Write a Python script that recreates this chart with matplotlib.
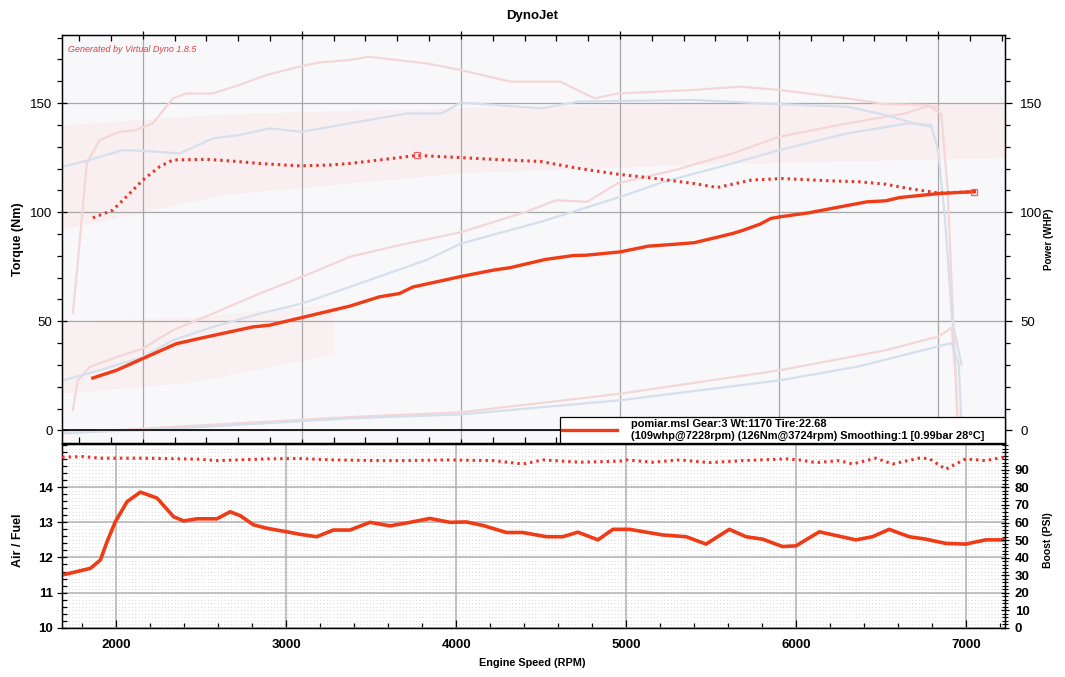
import matplotlib.pyplot as plt
from matplotlib.ticker import MultipleLocator, FixedLocator
from matplotlib.lines import Line2D

plt.rcParams['font.family'] = ['Liberation Sans', 'DejaVu Sans']

# --- run "pomiar.msl" (top panel) ---
rpm_power = [1686, 1833, 2000, 2210, 2399, 2692, 2797, 3000, 3300, 3488, 3613, 3698, 4000,
             4201, 4312, 4529, 4704, 4792, 5002, 5177, 5346, 5466, 5606, 5707, 5774, 5880,
             5948, 6000, 6188, 6381, 6550, 6670, 6759, 7000, 7228]
power_whp = [24.0, 27.5, 32.9, 39.7, 42.8, 47.4, 48.2, 51.7, 56.9, 61.2, 62.7, 65.7, 70.5,
             73.4, 74.6, 78.3, 80.1, 80.3, 81.8, 84.4, 85.3, 86.0, 88.4, 90.2, 91.7, 94.5,
             97.1, 97.8, 99.7, 102.4, 104.7, 105.2, 106.7, 108.5, 109.4]

rpm_torque = [1686, 1811, 1896, 2000, 2105, 2189, 2399, 2545, 2734, 2986, 3174, 3300, 3488,
              3724, 4000, 4200, 4503, 4744, 4985, 5226, 5466, 5611, 5827, 6019, 6309, 6507,
              6670, 6800, 7000, 7228]
torque_nm = [97.4, 100.9, 107.0, 114.7, 120.8, 123.9, 124.2, 123.5, 122.3, 121.2, 121.6, 122.3, 123.9,
             126.0, 125.0, 124.2, 123.2, 120.0, 117.4, 115.4, 113.1, 111.3, 114.7, 115.4, 114.4, 113.9,
             112.8, 111.0, 108.8, 109.3]

# --- faded reference run in the background ---
ref_rpm_tq_pink = [1560, 1591, 1648, 1728, 1853, 1958, 2063, 2189, 2273, 2440, 2608, 2776, 2985,
                   3111, 3300, 3420, 3781, 4000, 4312, 4624, 4840, 4985, 5466, 5755, 6000, 6429,
                   6670, 6935, 7020, 7060, 7095, 7123]
ref_tq_pink = [53.7, 76.6, 122.5, 133.0, 136.8, 137.6, 140.7, 152.1, 154.4, 154.4, 158.3, 162.8, 166.7,
               168.6, 169.7, 171.2, 168.2, 165.1, 159.8, 159.8, 152.1, 154.4, 156.0, 157.5, 156.0, 152.1,
               149.5, 149.1, 145.0, 110.0, 50.0, 4.6]
ref_rpm_hp_pink = [1560, 1591, 1665, 1811, 2000, 2189, 2440, 2734, 3000, 3300, 3614, 4000, 4408,
                   4600, 4792, 4985, 5346, 5707, 6000, 6429, 6790, 6935, 7000]
ref_hp_pink = [9.2, 22.9, 29.0, 32.9, 37.5, 45.9, 53.5, 62.7, 70.3, 79.5, 84.9, 90.8, 100.1,
               105.5, 104.7, 113.2, 119.3, 126.9, 134.5, 140.7, 145.2, 148.6, 148.0]
ref_rpm_tq_blue = [1497, 1644, 1874, 2000, 2231, 2440, 2608, 2797, 3000, 3300, 3661, 3877, 4000,
                   4503, 4744, 5466, 6000, 6429, 6670, 6814, 6958, 7000, 7044, 7088, 7147]
ref_tq_blue = [120.8, 123.5, 128.4, 128.1, 126.9, 133.8, 135.3, 138.4, 136.8, 140.7, 145.2, 145.2, 150.2,
               147.6, 150.7, 151.4, 149.5, 148.3, 144.5, 141.4, 139.1, 128.4, 96.3, 50.5, 30.0]
ref_rpm_hp_blue = [1497, 1728, 2000, 2189, 2440, 2734, 3000, 3300, 3781, 4000, 4503, 5002, 5274,
                   5707, 6000, 6429, 6814, 6958]
ref_hp_blue = [22.9, 27.5, 33.6, 41.3, 47.4, 53.5, 58.1, 65.7, 78.0, 85.6, 95.6, 107.0, 113.9,
               122.3, 128.4, 136.1, 140.7, 139.9]
ref_rpm_low_pink = [1497, 2000, 3300, 4000, 5002, 6000, 6670, 7000, 7085, 7110, 7123]
ref_low_pink = [-1.5, 0.8, 6.1, 8.3, 16.8, 27.5, 36.7, 43.0, 47.0, 25.0, 0.0]
ref_rpm_low_blue = [1497, 2000, 3300, 4000, 5000, 6003, 6507, 7000, 7085, 7130, 7148]
ref_low_blue = [-1.0, 0.0, 5.5, 7.3, 13.8, 22.9, 29.4, 38.5, 40.0, 30.0, 0.0]

# --- air / fuel and boost (bottom panel) ---
rpm_afr = [1683, 1771, 1849, 1908, 1947, 1996, 2065, 2143, 2241, 2338, 2397, 2476, 2593, 2671,
           2730, 2808, 2887, 3004, 3080, 3180, 3278, 3376, 3493, 3611, 3730, 3846, 3963, 4061,
           4159, 4296, 4393, 4531, 4628, 4716, 4834, 4922, 5020, 5215, 5353, 5470, 5607, 5705,
           5803, 5920, 5999, 6136, 6351, 6449, 6547, 6665, 6763, 6880, 6997, 7114, 7228]
afr = [11.50, 11.60, 11.69, 11.93, 12.45, 13.02, 13.59, 13.86, 13.69, 13.16, 13.04, 13.10, 13.10, 13.30,
       13.19, 12.93, 12.83, 12.73, 12.66, 12.59, 12.78, 12.78, 13.00, 12.90, 13.00, 13.11, 13.00, 13.01,
       12.91, 12.71, 12.71, 12.59, 12.59, 12.72, 12.50, 12.80, 12.80, 12.64, 12.59, 12.38, 12.80, 12.59,
       12.52, 12.31, 12.33, 12.73, 12.50, 12.59, 12.80, 12.59, 12.52, 12.40, 12.38, 12.50, 12.50]

rpm_boost = [1683, 1810, 1908, 2161, 2495, 2593, 2887, 3082, 3278, 3552, 3669, 3944, 4218, 4393,
             4511, 4727, 4962, 5001, 5157, 5314, 5490, 5685, 5940, 6019, 6117, 6254, 6332, 6469,
             6567, 6723, 6782, 6880, 6997, 7114, 7228]
boost_psi = [97.3, 97.6, 96.7, 96.7, 96.1, 95.3, 96.3, 96.5, 95.7, 95.3, 95.3, 95.7, 95.3, 93.4,
             95.7, 94.4, 95.0, 95.7, 94.4, 95.7, 94.2, 95.3, 96.3, 95.7, 94.2, 95.3, 93.4, 96.7,
             93.4, 96.7, 96.5, 90.4, 96.3, 95.3, 97.4]

afr_ticks = [10, 11, 12, 13, 14]
boost_ticks = [0, 10, 20, 30, 40, 50, 60, 70, 80, 90]

legend_text = ('pomiar.msl Gear:3 Wt:1170 Tire:22.68\n'
               '(109whp@7228rpm) (126Nm@3724rpm) Smoothing:1 [0.99bar 28\u00b0C]')

MERAH = '#ef3b16'
MERAH_TITIK = '#e8352a'
GRID = '#a8a8a8'
PINK_PUDAR = '#f5d6d6'
BIRU_PUDAR = '#d6dfed'


def gaya_sumbu(ax, warna_muka='white'):
    ax.set_facecolor(warna_muka)
    for s in ax.spines.values():
        s.set_color('black')
        s.set_linewidth(1.0)


def panel_atas(ax):
    gaya_sumbu(ax, '#f8f8fb')
    ax.set_xlim(1490, 7420)
    ax.set_ylim(-5.8, 181.3)

    # faded reference run
    ax.fill_between([1490, 2500, 4000, 5500, 7420], [92, 108, 118, 122, 125],
                    [140, 145, 148, 150, 150], color='#fbe8e8', alpha=0.55, lw=0, zorder=0)
    ax.fill_between([1490, 2300, 3200], [17, 22, 35], [50, 52, 58],
                    color='#fbe8e8', alpha=0.45, lw=0, zorder=0)
    for r, v, c in [(ref_rpm_tq_pink, ref_tq_pink, PINK_PUDAR),
                    (ref_rpm_hp_pink, ref_hp_pink, PINK_PUDAR),
                    (ref_rpm_low_pink, ref_low_pink, PINK_PUDAR),
                    (ref_rpm_tq_blue, ref_tq_blue, BIRU_PUDAR),
                    (ref_rpm_hp_blue, ref_hp_blue, BIRU_PUDAR),
                    (ref_rpm_low_blue, ref_low_blue, BIRU_PUDAR)]:
        ax.plot(r, v, color=c, lw=1.6, zorder=1)

    ax.grid(True, color=GRID, lw=0.9)
    ax.set_axisbelow(True)
    ax.axhline(0, color='black', lw=1.2, zorder=2)

    ax.plot(rpm_torque, torque_nm, color=MERAH_TITIK, lw=2.2, ls=(0, (0.8, 1.3)), zorder=4)
    ax.plot(rpm_power, power_whp, color=MERAH, lw=2.4, zorder=5)
    ipk = torque_nm.index(max(torque_nm))
    ax.plot(rpm_torque[ipk], torque_nm[ipk], 's', ms=4.5, mfc='none', mec='#f06060', mew=0.9, zorder=6)
    ax.plot(rpm_power[-1], power_whp[-1], 's', ms=4.5, mfc='none', mec='#f06060', mew=0.9, zorder=6)

    ax.xaxis.set_major_locator(MultipleLocator(1000))
    ax.xaxis.set_minor_locator(MultipleLocator(200))
    ax.yaxis.set_major_locator(MultipleLocator(50))
    ax.yaxis.set_minor_locator(MultipleLocator(10))
    ax.tick_params(axis='x', which='both', top=True, bottom=True, labelbottom=False,
                   direction='inout', length=6, width=0.9)
    ax.tick_params(axis='x', which='minor', direction='in', length=4)
    ax.tick_params(axis='y', which='major', direction='inout', length=7, width=0.9,
                   labelsize=9.5, pad=3)
    ax.tick_params(axis='y', which='minor', direction='out', length=3.5, width=0.9)

    kanan = ax.twinx()
    kanan.set_ylim(ax.get_ylim())
    kanan.yaxis.set_major_locator(MultipleLocator(50))
    kanan.yaxis.set_minor_locator(MultipleLocator(10))
    kanan.tick_params(axis='y', which='major', direction='out', length=5, width=0.9,
                      labelsize=9.5, pad=6)
    kanan.tick_params(axis='y', which='minor', direction='out', length=3.5, width=0.9)

    ax.text(0.007, 0.976, 'Generated by Virtual Dyno 1.8.5', transform=ax.transAxes,
            fontsize=6.5, style='italic', color='#e04040', va='top', ha='left')

    handle = Line2D([], [], color=MERAH, lw=2.4)
    leg = ax.legend([handle], [legend_text], loc='lower left', mode='expand',
                    bbox_to_anchor=(0.528, 0.0, 0.472, 0.064), borderaxespad=0,
                    fancybox=False, framealpha=1, edgecolor='black', borderpad=0.2,
                    handlelength=5.0, handletextpad=1.3, labelspacing=0.2,
                    prop={'size': 7.9, 'weight': 'bold'})
    leg.get_frame().set_linewidth(0.9)
    leg.set_zorder(10)
    return kanan


def panel_bawah(ax):
    gaya_sumbu(ax, 'white')
    ax.set_xlim(1680, 7228)
    ax.set_ylim(10, 15.23)

    # fine dotted background grid
    for k in range(101, 153):
        ax.axhline(k / 10, color='#d6d6d6', lw=0.7, ls=(0, (1, 2.4)), zorder=0)
    ax.grid(True, color='#b0b0b0', lw=1.1)
    ax.set_axisbelow(True)

    ax.plot(rpm_afr, afr, color=MERAH, lw=2.6, zorder=4)

    ax.xaxis.set_major_locator(MultipleLocator(1000))
    ax.xaxis.set_minor_locator(MultipleLocator(200))
    ax.yaxis.set_major_locator(FixedLocator(afr_ticks))
    ax.yaxis.set_minor_locator(MultipleLocator(0.2))
    ax.tick_params(axis='x', which='major', direction='in', length=6, width=0.9,
                   labelsize=9.5, pad=8)
    ax.tick_params(axis='x', which='minor', direction='in', length=3.5, width=0.9)
    ax.tick_params(axis='y', which='major', direction='inout', length=7, width=0.9,
                   labelsize=9.5, pad=3)
    ax.tick_params(axis='y', which='minor', direction='in', length=3.5, width=0.9)
    for t in ax.get_xticklabels() + ax.get_yticklabels():
        t.set_fontweight('bold')

    kanan = ax.twinx()
    kanan.set_ylim(0, 104.8)
    kanan.plot(rpm_boost, boost_psi, color=MERAH_TITIK, lw=2.2, ls=(0, (0.8, 1.3)), zorder=4)
    kanan.yaxis.set_major_locator(FixedLocator(boost_ticks))
    kanan.yaxis.set_minor_locator(MultipleLocator(2))
    kanan.tick_params(axis='y', which='major', direction='inout', length=6, width=0.9,
                      labelsize=9.5, pad=4)
    kanan.tick_params(axis='y', which='minor', direction='inout', length=5, width=0.8)
    for t in kanan.get_yticklabels():
        t.set_fontweight('bold')
    return kanan


def buat_grafik():
    fig = plt.figure(figsize=(10.65, 6.77), dpi=100)
    ax_atas = fig.add_axes([0.0579, 0.3456, 0.8857, 0.6031])
    ax_bawah = fig.add_axes([0.0579, 0.0728, 0.8857, 0.2714])

    panel_atas(ax_atas)
    panel_bawah(ax_bawah)

    fig.text(0.4995, 1 - 16 / 677, 'DynoJet', ha='center', va='center', fontsize=9.5, fontweight='bold')
    fig.text(18 / 1065, 1 - 239 / 677, 'Torque (Nm)', rotation=90, ha='center', va='center',
             fontsize=9, fontweight='bold')
    fig.text(1049 / 1065, 1 - 239 / 677, 'Power (WHP)', rotation=90, ha='center', va='center',
             fontsize=7, fontweight='bold')
    fig.text(18 / 1065, 1 - 540 / 677, 'Air / Fuel', rotation=90, ha='center', va='center',
             fontsize=9, fontweight='bold')
    fig.text(1048 / 1065, 1 - 540 / 677, 'Boost (PSI)', rotation=90, ha='center', va='center',
             fontsize=7.5, fontweight='bold')
    fig.text(532 / 1065, 1 - 663 / 677, 'Engine Speed (RPM)', ha='center', va='center',
             fontsize=7.8, fontweight='bold')

    fig.savefig('out.png', dpi=100)
    plt.close(fig)


if __name__ == '__main__':
    buat_grafik()
